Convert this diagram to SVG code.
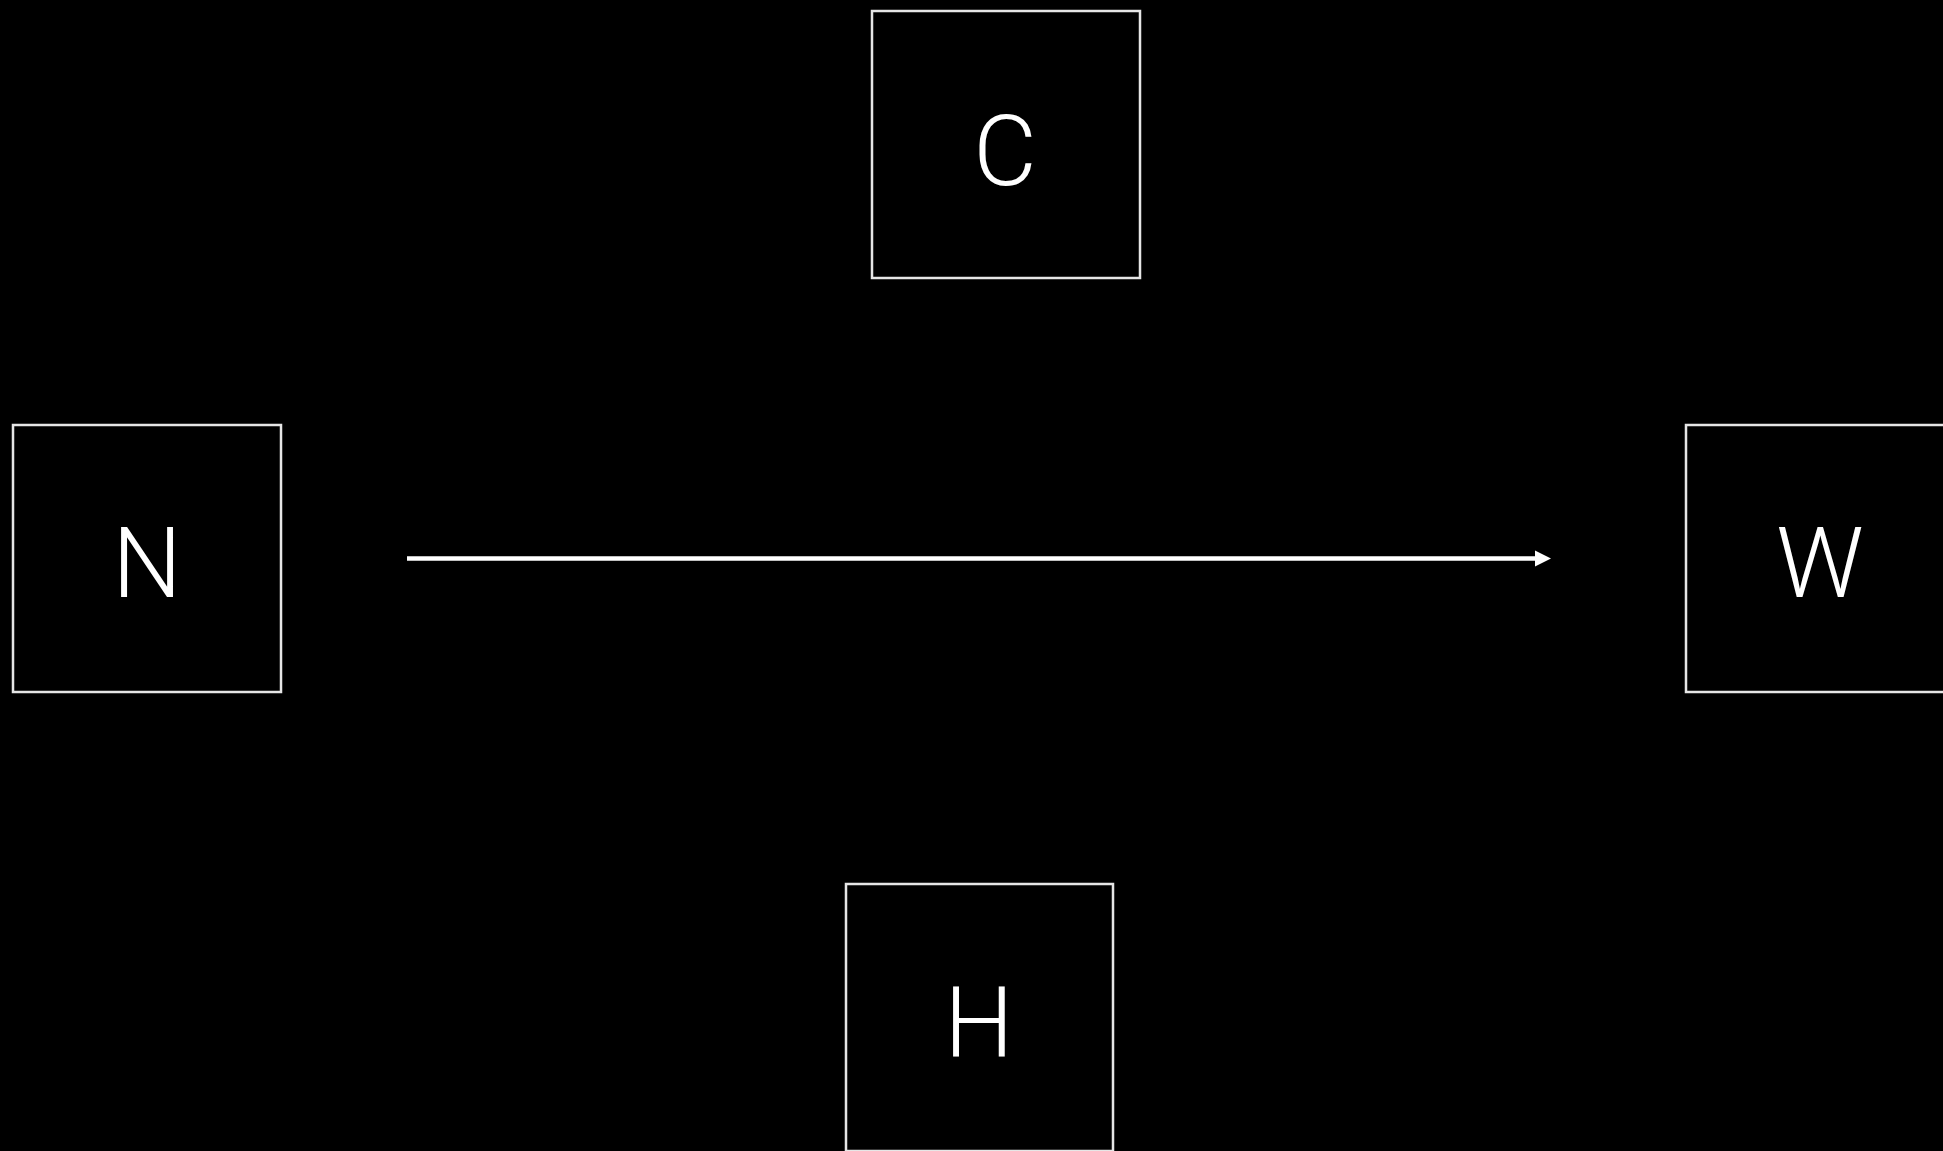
<svg xmlns="http://www.w3.org/2000/svg" width="1943" height="1151" viewBox="0 0 1943 1151">
<style>
.box{fill:#000;stroke:#e6e6e6;stroke-width:2.5}
.lbl{fill:#fff;font-family:Roboto,"Liberation Sans",sans-serif;font-weight:300;font-size:98px;text-anchor:middle}
.edge{stroke:#fff;stroke-width:4.5;fill:none}
</style>
<defs>
<marker id="arr" markerUnits="userSpaceOnUse" markerWidth="18" markerHeight="18" refX="4" refY="8" orient="auto" viewBox="0 0 18 16">
<path d="M0,0 L16,8 L0,16 Z" fill="#fff"/>
</marker>
</defs>
<rect x="0" y="0" width="1943" height="1151" fill="#000"/>
<g id="connectors">
<line class="edge" x1="407" y1="558.5" x2="1539" y2="558.5" marker-end="url(#arr)"/>
</g>
<g id="node-C">
<rect class="box" x="872" y="11" width="268" height="267"/>
<text class="lbl" x="1005" y="185">C</text>
</g>
<g id="node-N">
<rect class="box" x="13" y="425" width="268" height="267"/>
<text class="lbl" x="147" y="597">N</text>
</g>
<g id="node-W">
<rect class="box" x="1686" y="425" width="268" height="267"/>
<text class="lbl" x="1820" y="597">W</text>
</g>
<g id="node-H">
<rect class="box" x="846" y="884" width="267" height="267"/>
<text class="lbl" x="979" y="1057">H</text>
</g>
</svg>
